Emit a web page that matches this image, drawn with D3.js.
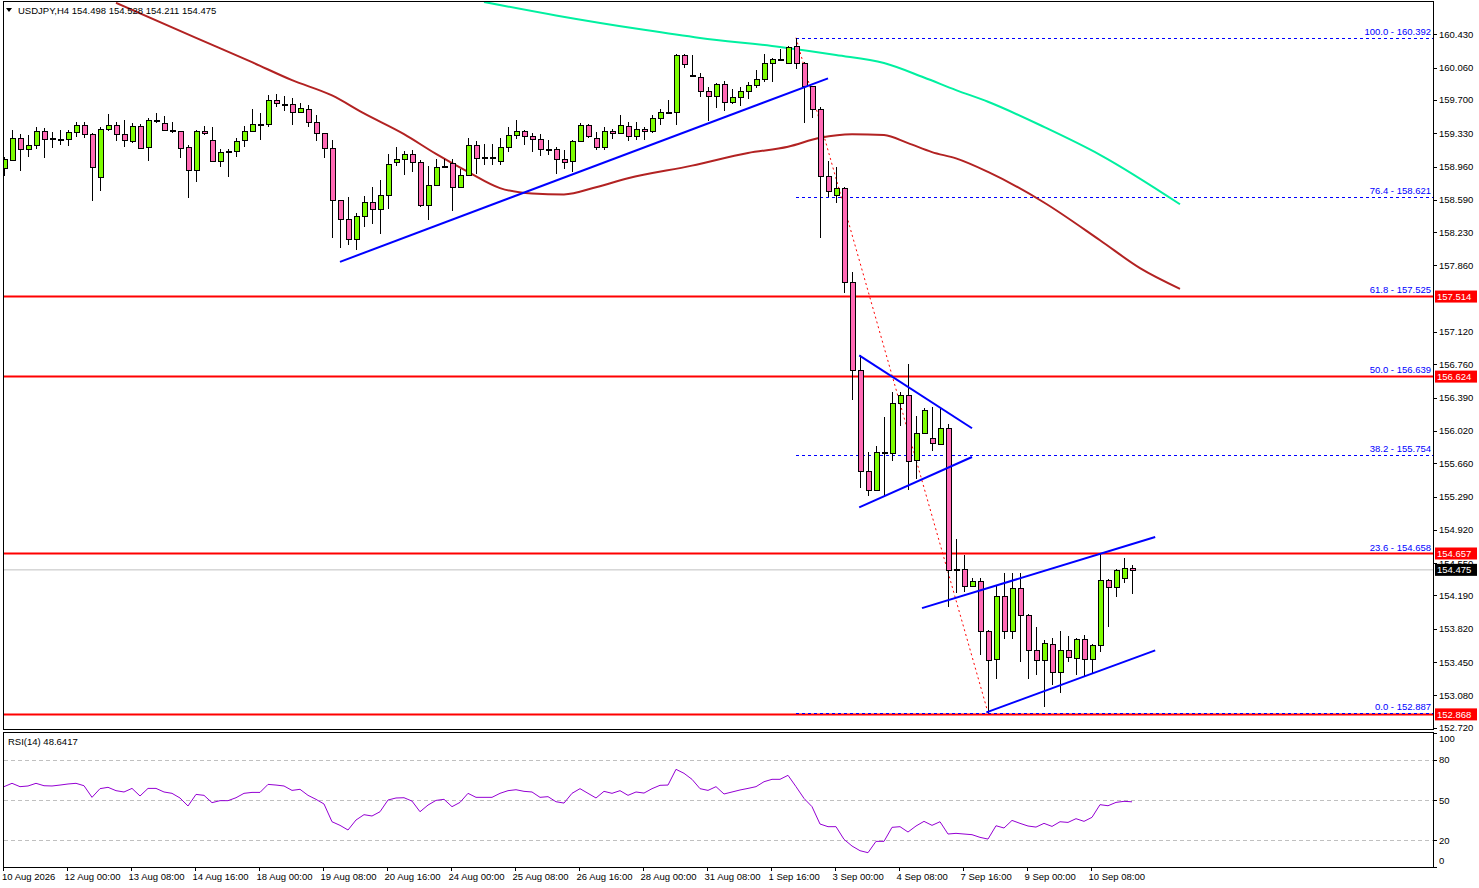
<!DOCTYPE html>
<html><head><meta charset="utf-8">
<script src="https://cdn.jsdelivr.net/npm/d3@7"></script>
<style>html,body{margin:0;padding:0;background:#fff;}svg{display:block;font-family:"Liberation Sans",Arial,sans-serif;}</style>
</head><body><svg id="c" width="1479" height="888"></svg>
<script>
const opens=[158.94,159.03,159.28,159.15,159.20,159.36,159.28,159.27,159.27,159.34,159.42,159.32,158.84,159.38,159.42,159.32,159.24,159.41,159.18,159.48,159.44,159.37,159.35,159.18,158.92,159.36,159.26,159.02,159.13,159.13,159.25,159.36,159.43,159.43,159.70,159.66,159.66,159.57,159.60,159.46,159.33,159.17,158.59,158.38,158.15,158.41,158.57,158.49,158.64,159.01,159.04,159.10,159.01,158.53,158.75,158.97,159.00,158.73,158.86,159.20,159.05,159.07,159.02,159.18,159.31,159.35,159.30,159.27,159.16,159.16,159.04,159.02,159.24,159.42,159.28,159.18,159.36,159.33,159.41,159.30,159.38,159.36,159.50,159.57,159.57,160.20,159.98,159.96,159.80,159.74,159.88,159.68,159.73,159.80,159.87,159.93,160.11,160.16,160.11,160.30,160.11,159.85,159.60,158.85,158.64,158.72,157.68,156.70,155.57,155.36,155.79,155.77,156.33,156.42,155.70,156.00,155.94,155.88,156.05,154.48,154.49,154.30,154.35,153.80,153.48,154.18,153.80,154.27,153.97,153.58,153.47,153.65,153.34,153.58,153.50,153.71,153.48,153.64,154.36,154.28,154.38,154.498];
const highs=[159.07,159.37,159.32,159.31,159.40,159.39,159.34,159.37,159.37,159.46,159.45,159.33,159.40,159.54,159.45,159.48,159.44,159.43,159.50,159.56,159.52,159.45,159.36,159.20,159.37,159.41,159.40,159.15,159.15,159.28,159.41,159.60,159.56,159.75,159.77,159.74,159.72,159.67,159.64,159.53,159.33,159.26,158.59,158.62,158.44,158.63,158.73,158.81,159.10,159.18,159.13,159.14,159.03,158.97,159.04,159.04,159.04,158.93,159.28,159.24,159.21,159.21,159.28,159.40,159.48,159.37,159.33,159.32,159.26,159.18,159.14,159.26,159.44,159.43,159.34,159.40,159.38,159.53,159.46,159.46,159.40,159.53,159.60,159.70,160.21,160.21,160.20,160.00,159.84,159.89,159.91,159.82,159.84,159.90,160.03,160.21,160.17,160.27,160.30,160.392,160.12,159.86,159.62,159.02,158.96,158.73,157.79,156.86,155.78,155.85,156.17,156.45,156.45,156.76,156.19,156.28,156.29,156.27,156.10,154.82,154.64,154.39,154.38,153.81,154.30,154.44,154.44,154.44,153.98,153.84,153.69,153.72,153.80,153.74,153.72,153.75,153.65,154.66,154.37,154.48,154.61,154.528];
const lows=[158.85,159.02,158.91,159.07,159.15,159.06,159.17,159.20,159.19,159.29,159.28,158.58,158.69,159.36,159.24,159.18,159.22,159.16,159.02,159.44,159.35,159.33,159.06,158.61,158.79,159.31,159.01,158.95,158.84,159.07,159.18,159.35,159.25,159.40,159.62,159.58,159.42,159.56,159.40,159.24,159.05,158.16,158.05,158.09,158.03,158.29,158.32,158.21,158.49,158.97,158.87,158.90,158.51,158.36,158.74,158.96,158.47,158.72,158.85,158.88,158.98,158.98,158.98,159.12,159.27,159.20,159.12,159.08,159.09,158.88,158.93,158.90,159.23,159.28,159.14,159.14,159.27,159.32,159.24,159.26,159.26,159.33,159.42,159.56,159.42,160.05,159.95,159.73,159.47,159.61,159.58,159.66,159.63,159.71,159.83,159.90,159.90,160.15,160.10,160.04,159.44,159.50,158.16,158.62,158.55,157.55,156.36,155.39,155.30,155.35,155.30,155.68,156.08,155.36,155.49,155.99,155.80,155.86,154.06,154.22,154.23,154.29,153.53,152.887,153.26,153.71,153.71,153.45,153.26,153.31,152.95,153.20,153.11,153.45,153.31,153.29,153.32,153.56,153.84,154.17,154.33,154.211];
const closes=[159.04,159.28,159.15,159.20,159.35,159.27,159.27,159.26,159.34,159.42,159.32,158.96,159.38,159.42,159.32,159.25,159.41,159.17,159.48,159.48,159.37,159.35,159.17,158.92,159.36,159.33,159.02,159.12,159.13,159.24,159.36,159.43,159.43,159.70,159.67,159.66,159.57,159.61,159.46,159.33,159.17,158.59,158.38,158.15,158.41,158.57,158.49,158.64,158.99,159.04,159.10,159.01,158.53,158.75,158.96,158.97,158.73,158.86,159.20,159.05,159.07,159.05,159.18,159.31,159.35,159.30,159.27,159.16,159.16,159.04,159.01,159.24,159.42,159.30,159.18,159.36,159.33,159.42,159.30,159.38,159.36,159.50,159.57,159.57,160.20,160.10,159.97,159.80,159.74,159.88,159.68,159.73,159.80,159.87,159.93,160.11,160.16,160.16,160.29,160.11,159.85,159.60,158.85,158.69,158.72,157.68,156.70,155.57,155.36,155.79,155.77,156.33,156.42,155.69,156.00,156.25,155.89,156.05,154.47,154.48,154.30,154.35,153.80,153.47,154.18,153.80,154.27,153.97,153.58,153.47,153.66,153.34,153.58,153.51,153.71,153.48,153.64,154.36,154.28,154.47,154.50,154.475];
const rsi=[60,62.5,60,60.5,62.5,60.7,60.5,61.2,62,62.5,60.7,52,58.5,59.5,57,56,58.7,53,58.7,58.7,56,55,51.5,45.5,54.2,53.5,48,49.5,49.5,51.7,55,55.7,55.7,61.7,61.2,60.5,57.2,58,53.5,50.5,47,33.7,31,27.5,35,39,38,41.2,50,51.5,51.7,49.2,41.2,46.2,49.7,50.5,45,48.2,55,52,52,52,55,57,57.7,56.5,56,52,52.5,48.7,47.7,55,58.5,55,51.5,56.5,55,57,53.5,56,55.2,58.5,61,61.2,73,70,65.5,58.5,57.2,60,54.5,56,57.5,58.7,60,63.7,65.5,65.5,68.5,60,51.2,45,32,30,30,20.5,15.5,12,10.5,19,19,29.5,30,26,30.5,34,31,33.7,24.5,25,24.5,24,22,20.7,30.7,29,34.7,32.5,30.5,29.7,32.5,30.2,33.7,33.2,36,34,37,46.5,45.7,48.2,49,48.6417];
const maRedIdx=[14,24,31,36,41,45,50,54,58,62,66,70,74,78,86,93,98,102,106,110,113,116,119,123,130,137,142,147];
const maRedVal=[160.78,160.39,160.12,159.92,159.75,159.55,159.32,159.10,158.90,158.72,158.66,158.65,158.73,158.83,158.97,159.11,159.18,159.28,159.32,159.31,159.22,159.12,159.05,158.90,158.56,158.14,157.83,157.60];
const maGreenIdx=[60,69,80,87,97,104,110,115,119,123,130,137,147];
const maGreenVal=[160.79,160.64,160.48,160.39,160.29,160.20,160.11,159.95,159.81,159.68,159.40,159.09,158.54];
const trendLines=[[42,157.90,103,159.94],[106.9,156.86,121,156.05],[106.9,155.17,121,155.73],[114.75,154.05,143.9,154.84],[122.8,152.89,143.9,153.58]];
const fibLevels=[["100.0",160.392],["76.4",158.621],["61.8",157.525],["50.0",156.639],["38.2",155.754],["23.6",154.658],["0.0",152.887]];
const fibDashed=["100.0","76.4","38.2","0.0"];
const redLevels=[157.514,156.624,154.657,152.868];
const priceTicks=[160.430,160.060,159.700,159.330,158.960,158.590,158.230,157.860,157.120,156.760,156.390,156.020,155.660,155.290,154.920,154.550,154.190,153.820,153.450,153.080,152.720];
const rsiTicks=[100,80,50,20,0];
const rsiLevels=[80,50,20];
const timeLabels=["10 Aug 2026","12 Aug 00:00","13 Aug 08:00","14 Aug 16:00","18 Aug 00:00","19 Aug 08:00","20 Aug 16:00","24 Aug 00:00","25 Aug 08:00","26 Aug 16:00","28 Aug 00:00","31 Aug 08:00","1 Sep 16:00","3 Sep 00:00","4 Sep 08:00","7 Sep 16:00","9 Sep 00:00","10 Sep 08:00"];
const lastPrice=154.475;

const svg=d3.select("#c");
const L=3,R=1433,T=3,B=730,RT=732,RB=867;
const x=d3.scaleLinear().domain([0,1]).range([4,12]);
const y=d3.scaleLinear().domain([160.43,152.72]).range([34.3,727.7]);
const yr=d3.scaleLinear().domain([0,100]).range([866.7,733.3]);
const fs=9.5;
svg.append("rect").attr("x",L+0.5).attr("y",T-1.5).attr("width",R-L).attr("height",B-T+1).attr("fill","none").attr("stroke","#000");
svg.append("rect").attr("x",L+0.5).attr("y",RT+0.5).attr("width",R-L).attr("height",RB-RT).attr("fill","none").attr("stroke","#000");
svg.append("defs").append("clipPath").attr("id","cp").append("rect").attr("x",L+1).attr("y",T-1).attr("width",R-L-1).attr("height",B-T);
const g=svg.append("g").attr("clip-path","url(#cp)");
g.append("line").attr("x1",L).attr("x2",R).attr("y1",y(lastPrice)).attr("y2",y(lastPrice)).attr("stroke","#c0c0c0");
redLevels.forEach(v=>g.append("line").attr("x1",L).attr("x2",R).attr("y1",y(v)).attr("y2",y(v)).attr("stroke","#ff0000").attr("stroke-width",2));
fibLevels.forEach(([n,v])=>{
  if(fibDashed.includes(n)) g.append("line").attr("x1",x(99)).attr("x2",R).attr("y1",Math.round(y(v))+0.5).attr("y2",Math.round(y(v))+0.5).attr("stroke","#0000ff").attr("stroke-dasharray","3,3");
  g.append("text").attr("x",R-2).attr("y",y(v)-2.5).attr("text-anchor","end").attr("fill","#0000ff").attr("font-size",fs).text(n+" - "+v.toFixed(3));
});
g.append("line").attr("x1",x(99)).attr("y1",y(160.392)).attr("x2",x(123)).attr("y2",y(152.887)).attr("stroke","#ff0000").attr("stroke-dasharray","2,3");
const ln=d3.line().curve(d3.curveMonotoneX);
g.append("path").attr("d",ln(maRedIdx.map((d,i)=>[x(d),y(maRedVal[i])]))).attr("fill","none").attr("stroke","#b22222").attr("stroke-width",2);
g.append("path").attr("d",ln(maGreenIdx.map((d,i)=>[x(d),y(maGreenVal[i])]))).attr("fill","none").attr("stroke","#00f0a0").attr("stroke-width",2);
const cg=g.append("g").attr("shape-rendering","crispEdges");
opens.forEach((o,i)=>{
  const c=closes[i],cx=Math.round(x(i))+0.5;
  cg.append("line").attr("x1",cx).attr("x2",cx).attr("y1",y(highs[i])).attr("y2",y(lows[i])).attr("stroke","#000");
  const top=Math.round(y(Math.max(o,c))),bot=Math.round(y(Math.min(o,c)));
  if(bot-top<1){cg.append("line").attr("x1",cx-3).attr("x2",cx+3).attr("y1",top+0.5).attr("y2",top+0.5).attr("stroke","#000").attr("stroke-width",2);}
  else cg.append("rect").attr("x",cx-2.5).attr("y",top+0.5).attr("width",5).attr("height",bot-top).attr("fill",c>=o?"#7cfc00":"#ff69b4").attr("stroke","#000");
});
trendLines.forEach(t=>g.append("line").attr("x1",x(t[0])).attr("y1",y(t[1])).attr("x2",x(t[2])).attr("y2",y(t[3])).attr("stroke","#0000ff").attr("stroke-width",2));
priceTicks.forEach(v=>{
  svg.append("line").attr("x1",R).attr("x2",R+4).attr("y1",Math.round(y(v))+0.5).attr("y2",Math.round(y(v))+0.5).attr("stroke","#000");
  svg.append("text").attr("x",R+6).attr("y",y(v)+3.5).attr("font-size",fs).text(v.toFixed(3));
});
function tag(v,bg){
  svg.append("rect").attr("x",R+2).attr("y",y(v)-6).attr("width",42).attr("height",12).attr("fill",bg);
  svg.append("text").attr("x",R+4).attr("y",y(v)+3.5).attr("font-size",fs).attr("fill","#fff").text(v.toFixed(3));
}
redLevels.forEach(v=>tag(v,"#ff0000"));
tag(lastPrice,"#000");
svg.append("path").attr("d","M6,8 L12,8 L9,12 Z").attr("fill","#000");
svg.append("text").attr("x",18).attr("y",14).attr("font-size",fs).text("USDJPY,H4  "+[opens[141],highs[141],lows[141],closes[141]].map(v=>v.toFixed(3)).join(" "));
rsiLevels.forEach(v=>svg.append("line").attr("x1",L+1).attr("x2",R).attr("y1",Math.round(yr(v))+0.5).attr("y2",Math.round(yr(v))+0.5).attr("stroke","#c0c0c0").attr("stroke-dasharray","4,3"));
svg.append("path").attr("d",d3.line()(rsi.map((v,i)=>[x(i),yr(v)]))).attr("fill","none").attr("stroke","#9400d3").attr("stroke-width",1);
svg.append("text").attr("x",8).attr("y",745).attr("font-size",fs).text("RSI(14) "+rsi[rsi.length-1].toFixed(4));
rsiTicks.forEach(v=>{
  const yy=Math.min(Math.max(yr(v),738),860);
  svg.append("line").attr("x1",R).attr("x2",R+4).attr("y1",Math.round(yr(v))+0.5).attr("y2",Math.round(yr(v))+0.5).attr("stroke","#000");
  svg.append("text").attr("x",R+6).attr("y",yy+3.5).attr("font-size",fs).text(v);
});
timeLabels.forEach((t,k)=>{
  const xx=Math.round(x(k*8))-0.5;
  svg.append("line").attr("x1",xx).attr("x2",xx).attr("y1",RB).attr("y2",RB+4).attr("stroke","#000");
  svg.append("text").attr("x",Math.max(xx-3,2)).attr("y",880).attr("font-size",fs).text(t);
});
</script></body></html>
